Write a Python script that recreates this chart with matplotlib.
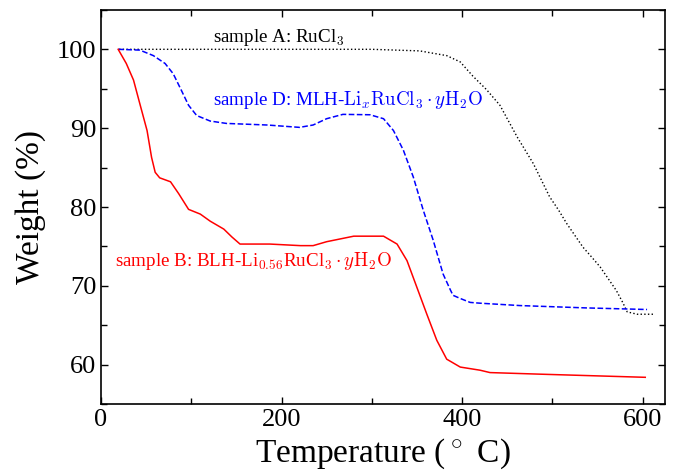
import matplotlib
matplotlib.use("Agg")
import matplotlib.pyplot as plt
from matplotlib.ticker import MultipleLocator

plt.rcParams['font.family'] = ['Liberation Serif', 'DejaVu Serif']
plt.rcParams['mathtext.fontset'] = 'cm'

# Sample A: RuCl3 (black dotted)
tA = [20, 100, 200, 300, 353, 383, 398, 412, 427, 442, 451, 461, 470, 479, 488, 497, 507, 516, 525, 534, 544, 553, 562, 571, 578, 583, 594, 612]
wA = [100.0, 100.0, 100.0, 100.0, 99.8, 99.2, 98.4, 96.6, 94.9, 92.9, 91.0, 88.9, 87.2, 85.5, 83.4, 81.3, 79.6, 77.9, 76.4, 74.9, 73.6, 72.4, 70.9, 69.4, 67.9, 66.7, 66.4, 66.4]

# Sample D: MLH-LixRuCl3·yH2O (blue dashed)
tD = [19, 43, 58, 71, 80, 89, 97, 106, 121, 139, 184, 220, 235, 250, 268, 298, 313, 324, 335, 346, 357, 368, 379, 387, 390, 398, 409, 420, 464, 538, 605]
wD = [100.0, 99.9, 99.2, 98.2, 96.9, 94.8, 92.9, 91.6, 90.9, 90.6, 90.4, 90.1, 90.4, 91.2, 91.75, 91.7, 91.2, 89.7, 87.2, 83.8, 79.6, 75.8, 71.5, 69.5, 68.8, 68.4, 67.9, 67.8, 67.5, 67.2, 67.0]

# Sample B: BLH-Li0.56RuCl3·yH2O (red solid)
tB = [19, 28, 36, 43, 51, 56, 60, 65, 77, 86, 97, 110, 121, 136, 145, 154, 187, 221, 235, 250, 280, 313, 328, 339, 350, 361, 372, 383, 398, 420, 431, 486, 603]
wB = [100.0, 98.2, 96.1, 93.1, 89.7, 86.3, 84.4, 83.7, 83.2, 81.7, 79.7, 79.1, 78.2, 77.2, 76.2, 75.3, 75.3, 75.1, 75.1, 75.6, 76.3, 76.3, 75.3, 73.2, 69.8, 66.4, 63.1, 60.7, 59.7, 59.3, 59.0, 58.8, 58.4]

fig = plt.figure(figsize=(6.78, 4.71), dpi=100)
ax = fig.add_axes([0.149, 0.142, 0.832, 0.837])

ax.plot(tA, wA, color='black', linestyle=':', linewidth=1.0)
ax.plot(tD, wD, color='blue', linestyle='--', linewidth=1.1)
ax.plot(tB, wB, color='red', linestyle='-', linewidth=1.1)

fs = 13.7
ax.text(124, 101.5, r'sample A: RuCl$_3$', color='black', fontsize=fs, va='center')
ax.text(124, 93.6, r'sample D: MLH-$\mathrm{Li}_x\mathrm{RuCl}_3\cdot y\mathrm{H}_2\mathrm{O}$', color='blue', fontsize=fs, va='center')
ax.text(15.5, 73.2, r'sample B: BLH-Li$_{0.56}$RuCl$_3\cdot y\mathrm{H}_2\mathrm{O}$', color='red', fontsize=fs, va='center')

ax.set_xlim(0, 625)
ax.set_ylim(55, 105)
ax.xaxis.set_major_locator(MultipleLocator(200))
ax.xaxis.set_minor_locator(MultipleLocator(100))
ax.yaxis.set_major_locator(MultipleLocator(10))
ax.yaxis.set_minor_locator(MultipleLocator(5))
ax.tick_params(which='both', direction='in', top=True, right=True, labelsize=19, width=1.0)
ax.tick_params(which='major', length=5)
ax.tick_params(which='minor', length=4)
for s in ax.spines.values():
    s.set_linewidth(1.2)

ax.set_xlabel(r'Temperature ($^\circ$ C)', fontsize=24, labelpad=4)
ax.set_ylabel('Weight (%)', fontsize=24, labelpad=8)

fig.savefig('out.png', dpi=100)
